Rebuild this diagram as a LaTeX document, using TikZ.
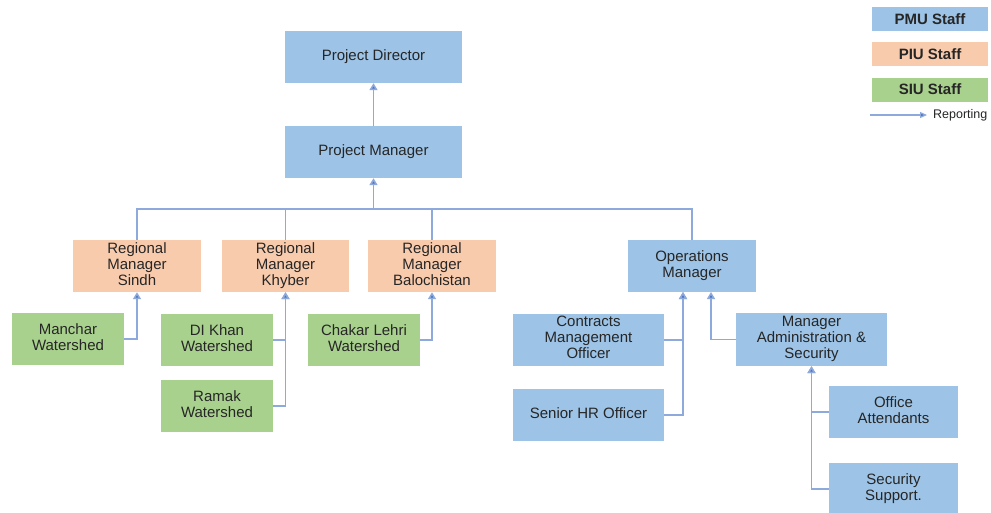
\documentclass[tikz,border=0pt]{standalone}
\usepackage{fontspec}
\setmainfont{Liberation Sans}
\usetikzlibrary{arrows.meta}
\definecolor{pmu}{HTML}{9DC3E6}
\definecolor{piu}{HTML}{F8CBAD}
\definecolor{siu}{HTML}{A9D18E}
\definecolor{wire}{HTML}{8EA9DB}
\definecolor{tip}{HTML}{4472C4}
\definecolor{ink}{HTML}{262626}
\tikzset{
  box/.style={rectangle, inner sep=0pt, align=center, text=ink,
    font=\fontsize{15}{16}\selectfont,
    execute at begin node=\strut, execute at end node=\strut},
  pmubox/.style={box, fill=pmu},
  piubox/.style={box, fill=piu},
  siubox/.style={box, fill=siu},
  wireline/.style={draw=wire, line width=1.5pt},
  report/.style={wireline, -{Triangle[length=7pt,width=8pt,fill=tip]}},
  keybox/.style={rectangle, inner sep=0pt, minimum width=116pt, minimum height=24pt,
    font=\fontsize{15}{17}\selectfont\bfseries, text=ink},
}
\begin{document}
\begin{tikzpicture}[x=1pt, y=-1pt]
\useasboundingbox[fill=white] (0,0) rectangle (991,512);

% top of the hierarchy
\node[pmubox, minimum width=177pt, minimum height=52pt] (pd) at (373.5,57) {Project Director};
\node[pmubox, minimum width=177pt, minimum height=52pt] (pm) at (373.5,152) {Project Manager};

% regional managers and operations
\node[piubox, minimum width=128pt, minimum height=52pt] (rms) at (137,266) {Regional\\Manager\\Sindh};
\node[piubox, minimum width=127pt, minimum height=52pt] (rmk) at (285.5,266) {Regional\\Manager\\Khyber};
\node[piubox, minimum width=128pt, minimum height=52pt] (rmb) at (432,266) {Regional\\Manager\\Balochistan};
\node[pmubox, minimum width=128pt, minimum height=52pt] (ops) at (692,266) {Operations\\Manager};

% watersheds
\node[siubox, minimum width=112pt, minimum height=52pt] (man) at (68,339) {Manchar\\Watershed};
\node[siubox, minimum width=112pt, minimum height=52pt] (dik) at (217,340) {DI Khan\\Watershed};
\node[siubox, minimum width=112pt, minimum height=52pt] (ram) at (217,406) {Ramak\\Watershed};
\node[siubox, minimum width=112pt, minimum height=52pt] (chk) at (364,340) {Chakar Lehri\\Watershed};

% operations staff
\node[pmubox, minimum width=151pt, minimum height=52pt] (cmo) at (588.5,340) {Contracts\\Management\\Officer};
\node[pmubox, minimum width=151pt, minimum height=52pt] (hr) at (588.5,415) {Senior HR Officer};
\node[pmubox, minimum width=151pt, minimum height=53pt] (mas) at (811.5,339.5) {Manager\\Administration \&\\Security};
\node[pmubox, minimum width=129pt, minimum height=52pt] (off) at (893.5,412) {Office\\Attendants};
\node[pmubox, minimum width=129pt, minimum height=52pt] (sec) at (893.5,489) {Security\\Support.};

% connection points
\coordinate (bus) at (373.5,209);
\coordinate (opsL) at (683,292);
\coordinate (opsR) at (711,292);

% reporting lines
\draw[report] (pm.north) -- (pd.south);
\draw[wireline] (rms.north) |- (ops.north |- bus) -- (ops.north);
\draw[wireline] (rmk.north) -- (rmk.north |- bus);
\draw[wireline] (rmb.north) -- (rmb.north |- bus);
\draw[report] (bus) -- (pm.south);

\draw[report] (man.east) -| (rms.south);
\draw[report] (dik.east) -| (rmk.south);
\draw[report] (ram.east) -| (rmk.south);
\draw[report] (chk.east) -| (rmb.south);

\draw[report] (cmo.east) -| (opsL);
\draw[report] (hr.east) -| (opsL);
\draw[report] (mas.west) -| (opsR);
\draw[report] (off.west) -| (mas.south);
\draw[report] (sec.west) -| (mas.south);

% key
\node[keybox, fill=pmu] (kpmu) at (930,19) {PMU Staff};
\node[keybox, fill=piu] (kpiu) at (930,54) {PIU Staff};
\node[keybox, fill=siu] (ksiu) at (930,89.5) {SIU Staff};
\coordinate (kstart) at (870,115);
\coordinate (kend) at (927,115);
\draw[draw=wire, line width=1.2pt, -{Triangle[length=7pt,width=6pt,fill=tip]}] (kstart) -- (kend);
\node[anchor=west, inner sep=0pt, text=ink, font=\fontsize{12.5}{14}\selectfont] (krep) at (933,115) {Reporting};
\end{tikzpicture}
\end{document}
